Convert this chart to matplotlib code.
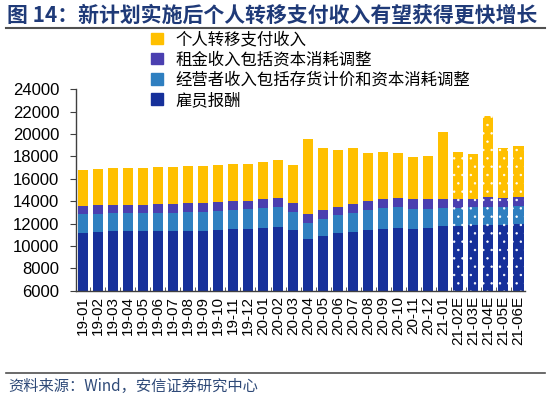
import matplotlib
matplotlib.use("Agg")
import matplotlib.pyplot as plt
import numpy as np

plt.rcParams['font.family'] = ['Liberation Sans', 'Noto Sans CJK SC', 'DejaVu Sans']
plt.rcParams['hatch.linewidth'] = 0.5

months = ["19-01", "19-02", "19-03", "19-04", "19-05", "19-06", "19-07", "19-08",
          "19-09", "19-10", "19-11", "19-12", "20-01", "20-02", "20-03", "20-04",
          "20-05", "20-06", "20-07", "20-08", "20-09", "20-10", "20-11", "20-12",
          "21-01", "21-02E", "21-03E", "21-04E", "21-05E", "21-06E"]
compensation = [11180, 11240, 11300, 11300, 11300, 11300, 11300, 11360, 11360, 11420,
                11480, 11510, 11630, 11720, 11425, 10590, 10890, 11160, 11280, 11395,
                11485, 11575, 11515, 11635, 11785, 11785, 11840, 11900, 11840, 11960]
proprietors = [1640, 1640, 1610, 1610, 1610, 1640, 1640, 1700, 1700, 1730,
               1730, 1760, 1760, 1790, 1610, 1430, 1520, 1580, 1700, 1815,
               1935, 1905, 1815, 1700, 1640, 1640, 1610, 1610, 1640, 1640]
rental = [745, 745, 745, 775, 775, 800, 800, 775, 805, 775,
          805, 775, 775, 800, 835, 805, 805, 775, 805, 805,
          775, 805, 835, 835, 805, 745, 775, 835, 805, 775]
transfers = [3217, 3247, 3277, 3277, 3277, 3277, 3277, 3277, 3306, 3277,
             3307, 3307, 3337, 3340, 3366, 6730, 5570, 5095, 5005, 4260,
             4230, 4020, 3815, 3900, 5930, 4230, 3990, 7300, 4500, 4530]
estimate_flags = [m.endswith("E") for m in months]

labels = ["个人转移支付收入", "租金收入包括资本消耗调整", "经营者收入包括存货计价和资本消耗调整", "雇员报酬"]
colors = ["#FFC000", "#4A3FB0", "#2F7FC0", "#16309A"]

fig = plt.figure(figsize=(5.5, 3.98), dpi=100)
ax = fig.add_axes([0.138, 0.2696, 0.817, 0.506])

x = np.arange(len(months))
w = 0.67
series = [compensation, proprietors, rental, transfers]
ser_colors = [colors[3], colors[2], colors[1], colors[0]]
bottom = np.zeros(len(months))
for vals, c in zip(series, ser_colors):
    vals = np.array(vals, dtype=float)
    for i in range(len(months)):
        b = ax.bar(x[i], vals[i], w, bottom=bottom[i], color=c, linewidth=0)
        if estimate_flags[i]:
            b[0].set_hatch('..')
            b[0].set_edgecolor('white')
            b[0].set_linewidth(0)
    bottom += vals

ax.set_ylim(6000, 24000)
ax.set_xlim(-0.45, 29.45)
ax.set_yticks(np.arange(6000, 24001, 2000))
ax.tick_params(axis='y', labelsize=12, length=4, color='#404040', pad=8)
ax.set_xticks(x)
ax.set_xticklabels(months, rotation=90, fontsize=11)
ax.tick_params(axis='x', length=0, pad=4)
ax.set_xticks(np.arange(-0.5, 30, 1)[1:-1], minor=True)
ax.tick_params(axis='x', which='minor', direction='in', length=3, color='#404040')
for s in ['top', 'right']:
    ax.spines[s].set_visible(False)
for s in ['left', 'bottom']:
    ax.spines[s].set_color('#404040')
    ax.spines[s].set_linewidth(1.0)

from matplotlib.patches import Patch
leg_handles = [Patch(color=c) for c in colors]
leg = fig.legend(leg_handles, labels, loc='upper left', bbox_to_anchor=(0.275, 0.922),
                 frameon=False, prop={'family': ['Noto Sans CJK SC'], 'size': 11.8},
                 handlelength=0.7, handleheight=0.7, handletextpad=0.8,
                 labelspacing=0.2, borderpad=0, borderaxespad=0)

fig.text(0.012, 0.962, "图 14：新计划实施后个人转移支付收入有望获得更快增长",
         fontsize=15, fontweight='bold', color='#1F3A78', va='center', ha='left',
         family=['Noto Sans CJK SC'])
fig.add_artist(plt.Line2D([0.01, 0.99], [0.93, 0.93], color='#505050', lw=1.5, transform=fig.transFigure))
fig.add_artist(plt.Line2D([0.01, 0.99], [0.063, 0.063], color='#505050', lw=1.2, transform=fig.transFigure))
fig.text(0.015, 0.028, "资料来源：Wind，安信证券研究中心", fontsize=11, style='italic',
         color='#2F4A78', va='center', ha='left', family=['Noto Sans CJK SC', 'DejaVu Sans'])

fig.savefig("out.png", dpi=100)
